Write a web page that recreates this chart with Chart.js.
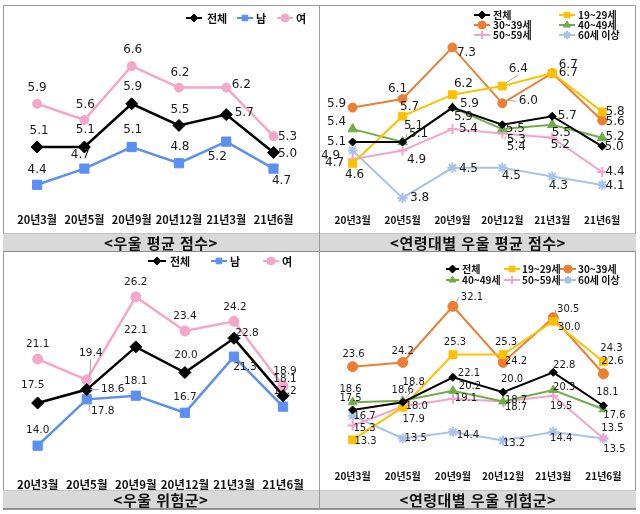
<!DOCTYPE html>
<html lang="ko">
<head>
<meta charset="UTF-8">
<title>우울 평균 점수 / 우울 위험군</title>
<script src="https://cdn.jsdelivr.net/npm/chart.js"></script>
<style>
  body { margin: 0; width: 640px; height: 514px; overflow: hidden; background: #fff; }
  .abs { position: absolute; }
  .frame { left: 3px; top: 5px; width: 633px; height: 505px; border: 1px solid #9b9b9b; box-sizing: border-box; }
  .vline { left: 319px; top: 5px; width: 1px; height: 505px; background: #9b9b9b; }
  .band { height: 19px; background: #d9d9d9; border-top: 1px solid #c4c4c4; border-bottom: 1px solid #8c8c8c; box-sizing: border-box;
          font: bold 15px "Noto Sans CJK KR", sans-serif; letter-spacing: 0.5px; color: #111; text-align: center; line-height: 17px; }
</style>
</head>
<body>
<div class="abs frame"></div>
<canvas id="c1" class="abs" style="left:3px;top:5px"></canvas>
<canvas id="c2" class="abs" style="left:320px;top:5px"></canvas>
<canvas id="c3" class="abs" style="left:3px;top:253px"></canvas>
<canvas id="c4" class="abs" style="left:320px;top:253px"></canvas>
<div class="abs band" style="left:3px;top:233px;width:316px">&lt;우울 평균 점수&gt;</div>
<div class="abs band" style="left:320px;top:233px;width:316px">&lt;연령대별 우울 평균 점수&gt;</div>
<div class="abs band" style="left:3px;top:490px;width:316px">&lt;우울 위험군&gt;</div>
<div class="abs band" style="left:320px;top:490px;width:316px">&lt;연령대별 우울 위험군&gt;</div>
<div class="abs vline"></div>

<script>
const months = ['20년3월', '20년5월', '20년9월', '20년12월', '21년3월', '21년6월'];
const sexNames = ['전체', '남', '여'];
const ageNames = ['전체', '19~29세', '30~39세', '40~49세', '50~59세', '60세 이상'];

// 우울 평균 점수
const meanTotal = [5.1, 5.1, 5.9, 5.5, 5.7, 5.0];
const meanMale = [4.4, 4.7, 5.1, 4.8, 5.2, 4.7];
const meanFemale = [5.9, 5.6, 6.6, 6.2, 6.2, 5.3];
const mean20s = [4.6, 5.7, 6.2, 6.4, 6.7, 5.8];
const mean30s = [5.9, 6.1, 7.3, 6.0, 6.7, 5.6];
const mean40s = [5.4, 5.1, 5.9, 5.4, 5.5, 5.2];
const mean50s = [4.7, 4.9, 5.4, 5.3, 5.2, 4.4];
const mean60s = [4.9, 3.8, 4.5, 4.5, 4.3, 4.1];

// 우울 위험군 (%)
const riskTotal = [17.5, 18.6, 22.1, 20.0, 22.8, 18.1];
const riskMale = [14.0, 17.8, 18.1, 16.7, 21.3, 17.2];
const riskFemale = [21.1, 19.4, 26.2, 23.4, 24.2, 18.9];
const risk20s = [13.3, 17.9, 25.3, 25.3, 30.0, 24.3];
const risk30s = [23.6, 24.2, 32.1, 24.2, 30.5, 22.6];
const risk40s = [18.6, 18.8, 20.2, 18.7, 20.3, 17.6];
const risk50s = [15.3, 18.0, 19.1, 18.7, 19.5, 13.5];
const risk60s = [16.7, 13.5, 14.4, 13.2, 14.4, 13.5];

const FONT = "'Noto Sans CJK KR', sans-serif";

function series(label, data, color, style, r, lw) {
  const thin = style === 'cross' || style === 'star';
  return {
    label, data, borderColor: color, backgroundColor: color, borderWidth: lw,
    pointStyle: style, pointRadius: r, pointHoverRadius: r,
    pointBackgroundColor: color, pointBorderColor: color, pointBorderWidth: thin ? 2 : 1,
    tension: 0, fill: false, clip: false
  };
}

function makePanel(id, p, datasets) {
  const canvas = document.getElementById(id);
  canvas.width = p.w; canvas.height = p.h;
  const padTop = 18;
  const axisTop = p.labelY - p.top - 20;
  const yMin = p.v0 - (p.top + axisTop - p.p0) / p.k;
  const yMax = p.v0 + (p.p0 - p.top - padTop) / p.k;
  const edge = p.firstX - p.stepX / 2;
  const padLeft = edge - p.left;
  const padRight = p.left + p.w - (edge + p.stepX * months.length);

  // value labels with optional leader lines
  const valueLabels = {
    id: 'valueLabels',
    afterDatasetsDraw(chart) {
      const ctx = chart.ctx;
      ctx.save();
      ctx.font = p.valueFont + "px 'DejaVu Sans', sans-serif";
      ctx.textAlign = 'center';
      ctx.textBaseline = 'middle';
      chart.data.datasets.forEach((ds, i) => {
        chart.getDatasetMeta(i).data.forEach((pt, j) => {
          const off = p.offsets[i][j];
          const tx = pt.x + off[0], ty = pt.y + off[1];
          const text = ds.data[j].toFixed(1);
          if (off[2]) {
            const w = ctx.measureText(text).width;
            let sx, sy;
            if (Math.abs(off[0]) > Math.abs(off[1])) { sx = tx - Math.sign(off[0]) * (w / 2 + 2); sy = ty; }
            else { sx = tx; sy = ty - Math.sign(off[1]) * 6; }
            ctx.strokeStyle = '#a6a6a6';
            ctx.lineWidth = 1;
            ctx.beginPath();
            ctx.moveTo(sx, sy);
            ctx.lineTo(pt.x + Math.sign(off[0]) * 3, pt.y + Math.sign(off[1]) * 3);
            ctx.stroke();
          }
          ctx.fillStyle = '#1a1a1a';
          ctx.fillText(text, tx, ty);
        });
      });
      ctx.restore();
    }
  };

  // excel-like legend: line with marker, then text
  const lineLegend = {
    id: 'lineLegend',
    afterDraw(chart) {
      const ctx = chart.ctx;
      ctx.save();
      chart.data.datasets.forEach((ds, i) => {
        const [x0, x1, y, tx] = p.legend[i];
        const lx0 = x0 - p.left, lx1 = x1 - p.left, ly = y - p.top;
        ctx.strokeStyle = ds.borderColor;
        ctx.lineWidth = 2;
        ctx.beginPath(); ctx.moveTo(lx0, ly); ctx.lineTo(lx1, ly); ctx.stroke();
        ctx.fillStyle = ds.pointBackgroundColor;
        ctx.strokeStyle = ds.pointBorderColor;
        ctx.lineWidth = ds.pointBorderWidth;
        Chart.helpers.drawPoint(ctx, { pointStyle: ds.pointStyle, radius: Math.min(ds.pointRadius, 4), rotation: 0, borderWidth: ds.pointBorderWidth }, (lx0 + lx1) / 2, ly);
        ctx.fillStyle = '#111';
        ctx.font = 'bold ' + p.legendFont + 'px ' + FONT;
        ctx.textAlign = 'left';
        ctx.textBaseline = 'middle';
        ctx.fillText(ds.label, tx - p.left, ly + 0.5);
      });
      ctx.restore();
    }
  };

  new Chart(canvas, {
    type: 'line',
    data: { labels: months, datasets },
    options: {
      responsive: false, animation: false, devicePixelRatio: 1,
      layout: { padding: { top: padTop, left: padLeft, right: padRight, bottom: 0 } },
      scales: {
        x: {
          offset: true,
          grid: { display: false, drawTicks: false },
          border: { display: false },
          ticks: { autoSkip: false, maxRotation: 0, minRotation: 0, color: '#111',
                   padding: 20 - p.catFont * 0.6, font: { family: FONT, size: p.catFont, weight: 'bold' } },
          afterFit: s => { s.height = p.h - axisTop; }
        },
        y: { display: false, min: yMin, max: yMax }
      },
      plugins: { legend: { display: false }, tooltip: { enabled: false } }
    },
    plugins: [valueLabels, lineLegend]
  });
}

const C = { total: '#000000', male: '#5b8ff2', female: '#f4a7c9', a20: '#ffc000', a30: '#ed7d31', a40: '#70ad47', a50: '#f5a3cb', a60: '#a9c2e8' };

makePanel('c1', {
  left: 3, top: 5, w: 316, h: 228, firstX: 37, stepX: 47.3, v0: 5.1, p0: 147, k: 54, labelY: 220,
  catFont: 11, valueFont: 12, legendFont: 11,
  legend: [[186, 202, 18, 207], [237, 253, 18, 256], [277, 293, 18, 296]],
  offsets: [
    [[2, -16], [1, -17], [1, -17], [1, -16], [18, -2], [14, 1]],
    [[0, -15], [-4, -14], [1, -17], [1, -16], [-9, 15], [8, 12]],
    [[0, -16], [1, -15], [1, -16], [1, -15], [15, -3], [14, 1]]
  ]
}, [
  series(sexNames[0], meanTotal, C.total, 'rectRot', 6, 2.5),
  series(sexNames[1], meanMale, C.male, 'rect', 6.5, 2.5),
  series(sexNames[2], meanFemale, C.female, 'circle', 4.5, 2.5)
]);

makePanel('c2', {
  left: 320, top: 5, w: 316, h: 228, firstX: 351, stepX: 50.2, v0: 5.1, p0: 142, k: 43, labelY: 220,
  catFont: 10, valueFont: 12, legendFont: 10,
  legend: [[474, 490, 15, 493], [559, 575, 15, 578], [474, 490, 25, 493], [559, 575, 25, 578], [474, 490, 35, 493], [559, 575, 35, 578]],
  offsets: [
    [[-16, 0], [11, -16], [17, -4], [13, 4], [15, 0], [12, 1]],
    [[2, 11], [7, -9], [11, -11], [16, -17, 1], [16, 0], [13, 0]],
    [[-16, -4], [-5, -10], [14, 5, 1], [26, -2, 1], [16, -8], [13, 1]],
    [[-16, -7], [16, -8, 1], [11, 9], [14, 18, 1], [9, 8], [13, -1]],
    [[-18, 4], [14, 9], [16, 0], [14, 6, 1], [8, 7], [13, 0]],
    [[-22, 5], [17, 0], [16, 1], [9, 8], [6, 9], [13, 1]]
  ]
}, [
  series(ageNames[0], meanTotal, C.total, 'rectRot', 4, 2),
  series(ageNames[1], mean20s, C.a20, 'rect', 5.5, 2),
  series(ageNames[2], mean30s, C.a30, 'circle', 4.5, 2),
  series(ageNames[3], mean40s, C.a40, 'triangle', 5.5, 2),
  series(ageNames[4], mean50s, C.a50, 'cross', 5, 2),
  series(ageNames[5], mean60s, C.a60, 'star', 5, 2)
]);

makePanel('c3', {
  left: 3, top: 253, w: 316, h: 237, firstX: 37, stepX: 49.2, v0: 17.5, p0: 403, k: 12.2, labelY: 485,
  catFont: 11.5, valueFont: 10.5, legendFont: 11,
  legend: [[148, 166, 261, 170], [211, 227, 261, 230], [263, 279, 261, 282]],
  offsets: [
    [[-5, -18], [26, 0, 1], [0, -17], [1, -17], [13, -5], [2, -16]],
    [[0, -15], [16, 12, 1], [0, -14], [0, -15], [11, 11], [2, -15]],
    [[0, -15], [4, -27, 1], [0, -15], [0, -15], [1, -14], [2, -15]]
  ]
}, [
  series(sexNames[0], riskTotal, C.total, 'rectRot', 6, 2.5),
  series(sexNames[1], riskMale, C.male, 'rect', 6.5, 2.5),
  series(sexNames[2], riskFemale, C.female, 'circle', 5, 2.5)
]);

makePanel('c4', {
  left: 320, top: 253, w: 316, h: 237, firstX: 344, stepX: 53, v0: 17.5, p0: 410, k: 7.1, labelY: 476,
  catFont: 10, valueFont: 10, legendFont: 10,
  legend: [[446, 459, 269, 462], [504, 520, 269, 522], [560, 576, 269, 578], [446, 459, 280, 462], [504, 520, 280, 522], [560, 576, 280, 578]],
  offsets: [
    [[-2, -12], [0, -12], [16, -4, 1], [9, -13], [11, -7], [4, -13]],
    [[13, 2], [11, 12], [2, -12], [3, -12], [16, 6], [8, -13]],
    [[1, -12], [0, -11], [19, -9, 1], [13, -1], [15, -8, 1], [9, -12]],
    [[-2, -13], [11, -18, 1], [17, -4], [13, -1], [11, -3], [11, 6]],
    [[12, 3], [14, 0], [13, 0], [13, 6, 1], [8, 11], [9, -10]],
    [[12, 1], [13, 0], [15, 3], [11, 3], [8, 6], [11, 11]]
  ]
}, [
  series(ageNames[0], riskTotal, C.total, 'rectRot', 4, 2),
  series(ageNames[1], risk20s, C.a20, 'rect', 5.5, 2),
  series(ageNames[2], risk30s, C.a30, 'circle', 5, 2),
  series(ageNames[3], risk40s, C.a40, 'triangle', 5, 2),
  series(ageNames[4], risk50s, C.a50, 'cross', 5, 2),
  series(ageNames[5], risk60s, C.a60, 'star', 5, 2)
]);
</script>
</body>
</html>
